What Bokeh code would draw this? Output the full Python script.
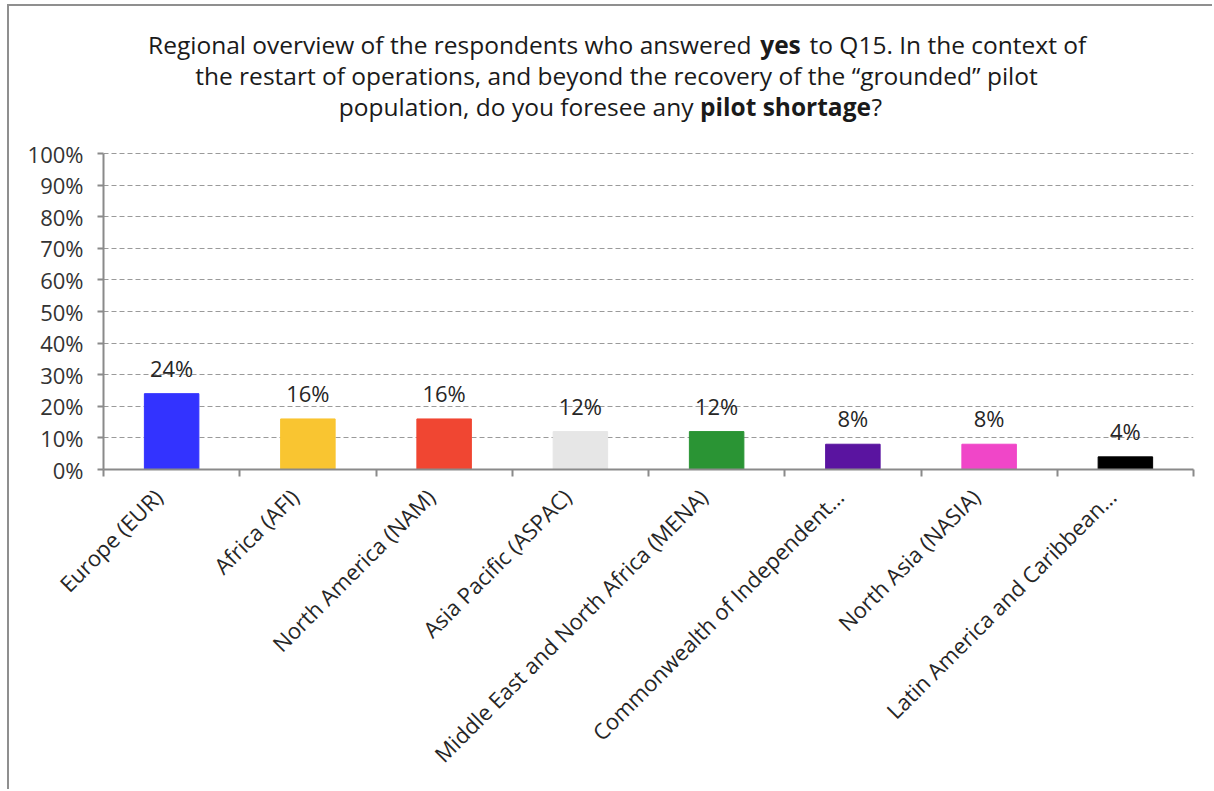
from math import pi
from bokeh.plotting import figure
from bokeh.models import (ColumnDataSource, Range1d, FixedTicker, NumeralTickFormatter)
from bokeh.core.properties import value
from bokeh.embed import file_html
from bokeh.resources import INLINE

categories = ["Europe (EUR)", "Africa (AFI)", "North America (NAM)", "Asia Pacific (ASPAC)",
              "Middle East and North Africa (MENA)", "Commonwealth of Independent\u2026",
              "North Asia (NASIA)", "Latin America and Caribbean\u2026"]
shares = [0.24, 0.16, 0.16, 0.12, 0.12, 0.08, 0.08, 0.04]
bar_labels = ["24%", "16%", "16%", "12%", "12%", "8%", "8%", "4%"]
colors = ["#3333FF", "#F9C531", "#F04632", "#E6E6E6", "#2A9434", "#5A14A0", "#F046C8", "#000000"]
y_ticks = [0, 0.1, 0.2, 0.3, 0.4, 0.5, 0.6, 0.7, 0.8, 0.9, 1.0]

title_lines = [
    [("Regional overview of the respondents who answered", False), ("yes", True),
     ("to Q15. In the context of", False)],
    [("the restart of operations, and beyond the recovery of the \u201cgrounded\u201d pilot", False)],
    [("population, do you foresee any", False), ("pilot shortage", True), ("?", False)],
]

centers = [i + 0.5 for i in range(len(categories))]
bounds = list(range(len(categories) + 1))
label_pos = [c - 0.1 for c in centers]

src = ColumnDataSource(dict(x=centers, top=shares, lab=bar_labels, color=colors, cat=categories))

FONT = "Open Sans"
TFONT = "Open Sans"

# frame spans page y 6..469 (0..100% = 316 px); title lives in the top part of the frame
FRAME_H = 463
PX_PER_UNIT = 316.0
p = figure(width=1205, height=785, output_backend="svg", toolbar_location=None,
           x_range=Range1d(0, len(categories)), y_range=Range1d(0, FRAME_H / PX_PER_UNIT),
           min_border_left=94, min_border_right=21, min_border_top=0, min_border_bottom=322)
p.styles = {"margin-left": "7px", "margin-top": "4px",
            "border-left": "2px solid #8f8f8f", "border-top": "2px solid #8f8f8f"}
p.outline_line_color = None
p.background_fill_color = "white"
p.border_fill_color = "white"

p.vbar(x="x", top="top", width=0.4, bottom=0, color="color", line_color="color", source=src)
p.text(x="x", y="top", text="lab", source=src, text_align="center", text_baseline="alphabetic",
       y_offset=-26, text_font=value(FONT), text_font_size="22px", text_color="#262626")

# y axis
ya = p.yaxis[0]
ya.bounds = (0, 1)
ya.ticker = FixedTicker(ticks=y_ticks)
ya.formatter = NumeralTickFormatter(format="0%")
ya.axis_line_color = "#8a8a8a"
ya.axis_line_width = 2
ya.major_tick_line_color = "#8a8a8a"
ya.major_tick_line_width = 2
ya.major_tick_in = 0
ya.major_tick_out = 6
ya.minor_tick_line_color = None
ya.major_label_standoff = 14
ya.major_label_text_font = FONT
ya.major_label_text_font_size = "22px"
ya.major_label_text_color = "#333333"

# x axis
xa = p.xaxis[0]
xa.ticker = FixedTicker(ticks=label_pos, minor_ticks=bounds)
xa.major_label_overrides = {c: n for c, n in zip(label_pos, categories)}
xa.major_label_orientation = pi / 4
xa.axis_line_color = "#8a8a8a"
xa.axis_line_width = 2
xa.major_tick_line_color = None
xa.major_tick_in = 0
xa.major_tick_out = 0
xa.minor_tick_line_color = "#8a8a8a"
xa.minor_tick_line_width = 2
xa.minor_tick_in = 0
xa.minor_tick_out = 7
xa.major_label_standoff = 16
xa.major_label_text_font = FONT
xa.major_label_text_font_size = "22px"
xa.major_label_text_color = "#262626"

p.xgrid.grid_line_color = None
p.ygrid.ticker = FixedTicker(ticks=y_ticks[1:])
p.ygrid.bounds = (0, 1)
p.ygrid.grid_line_color = "#9a9a9a"
p.ygrid.grid_line_dash = "5 3"
p.ygrid.grid_line_width = 1

# title pieces (page px -> data coords)
FL, FB = 103, 469
XS = 1090 / len(categories)
anchors = [  # (page x, page baseline y, align) for each segment
    [(751, 44, "right"), (780, 44, "center"), (809, 44, "left")],
    [(616, 75, "center")],
    [(693, 106, "right"), (785, 106, "center"), (871, 106, "left")],
]
for line, anc in zip(title_lines, anchors):
    for (txt, bold), (px, py, al) in zip(line, anc):
        p.text(x=[(px - FL) / XS], y=[(FB - py) / PX_PER_UNIT], text=[txt],
               text_align=al, text_baseline="alphabetic", text_font=value(TFONT),
               text_font_size="24.5px", text_color="#1a1a1a",
               text_font_style="bold" if bold else "normal")

open("out.html", "w").write(file_html(p, INLINE))
